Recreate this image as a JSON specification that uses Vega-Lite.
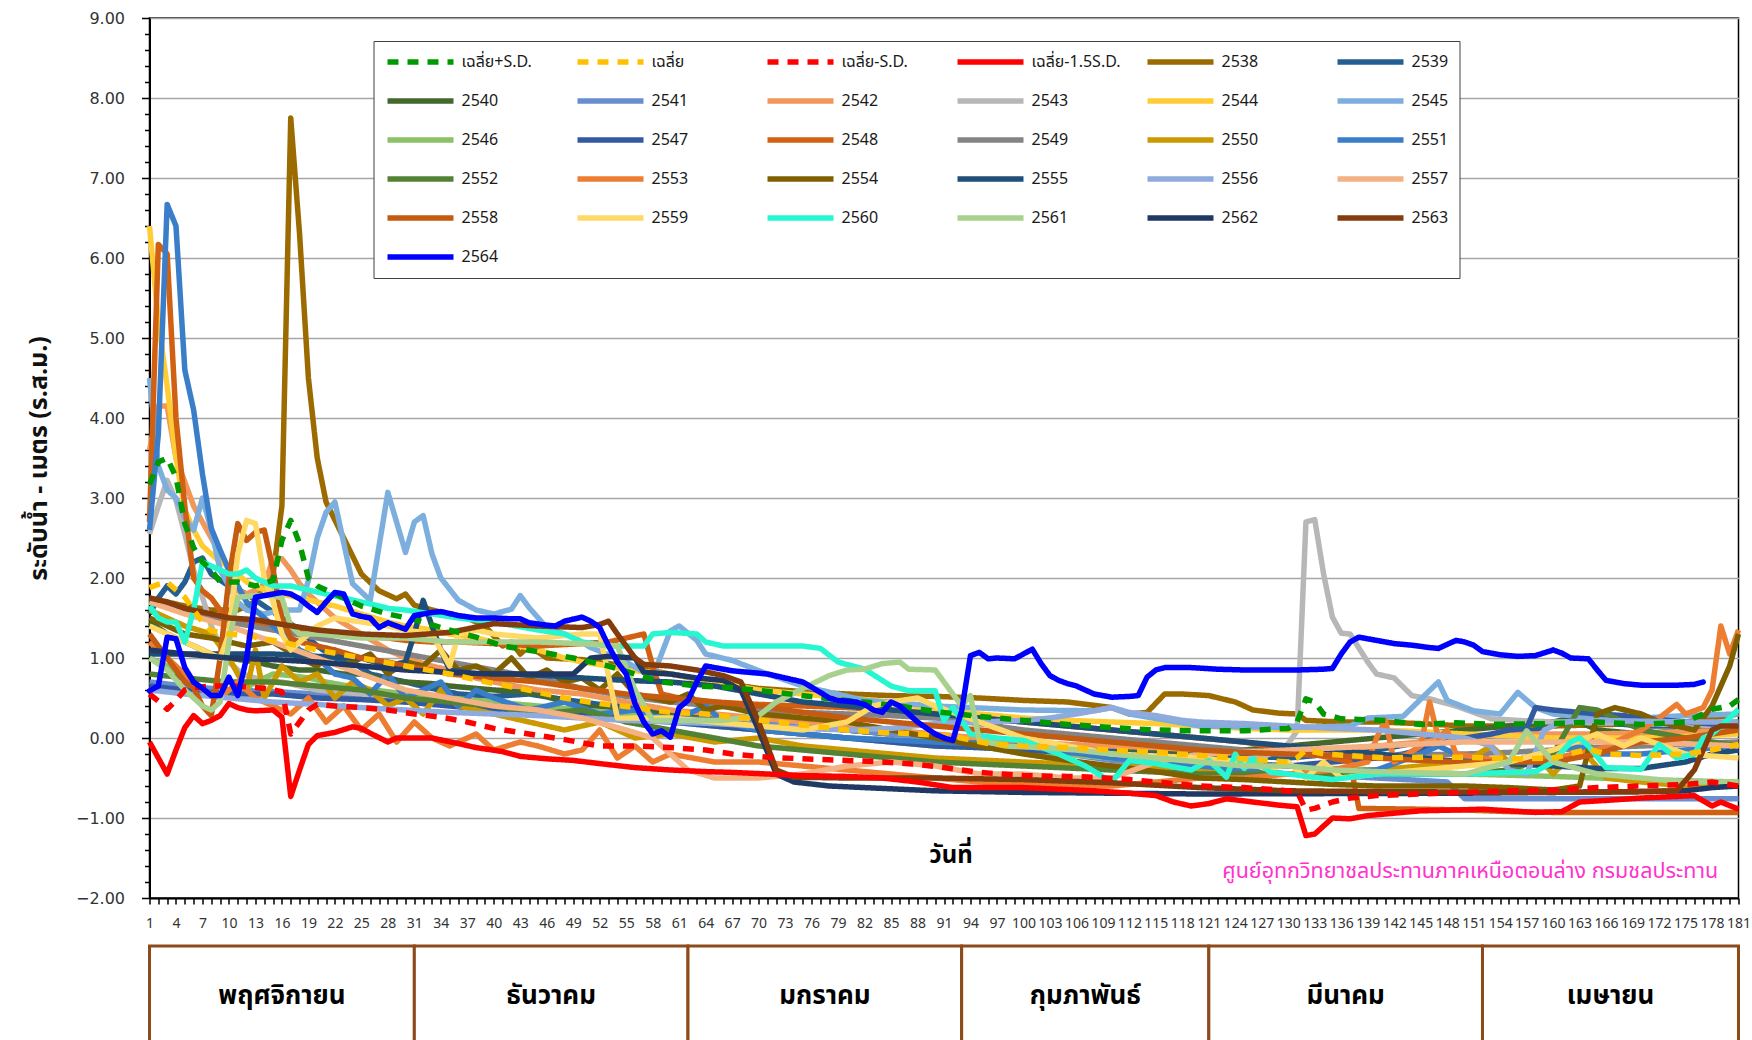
{
"$schema": "https://vega.github.io/schema/vega-lite/v6.json",
"background": "white",
"padding": {"left": 25.5, "top": 9, "right": 0, "bottom": 0},
"spacing": 13,
"config": {"view": {"stroke": null}},
"datasets": {
"mo": [
{"m": "พฤศจิกายน", "a": 1, "b": 31},
{"m": "ธันวาคม", "a": 31, "b": 62},
{"m": "มกราคม", "a": 62, "b": 93},
{"m": "กุมภาพันธ์", "a": 93, "b": 121},
{"m": "มีนาคม", "a": 121, "b": 152},
{"m": "เมษายน", "a": 152, "b": 181}
],
"w": [
{"s":"2538","d":1,"v":1.75},{"s":"2538","d":3,"v":1.7},{"s":"2538","d":5,"v":1.65},{"s":"2538","d":8,"v":1.6},{"s":"2538","d":11,"v":1.6},{"s":"2538","d":13,"v":1.7},{"s":"2538","d":14,"v":1.95},{"s":"2538","d":15,"v":2.05},{"s":"2538","d":16,"v":2.9},{"s":"2538","d":17,"v":7.75},{"s":"2538","d":18,"v":6.3},{"s":"2538","d":19,"v":4.5},{"s":"2538","d":20,"v":3.5},{"s":"2538","d":21,"v":2.95},{"s":"2538","d":23,"v":2.5},{"s":"2538","d":25,"v":2.05},{"s":"2538","d":27,"v":1.84},{"s":"2538","d":29,"v":1.74},{"s":"2538","d":30,"v":1.8},{"s":"2538","d":31,"v":1.66},{"s":"2538","d":33,"v":1.6},{"s":"2538","d":35,"v":1.55},{"s":"2538","d":37,"v":1.5},{"s":"2538","d":39,"v":1.4},{"s":"2538","d":41,"v":1.15},{"s":"2538","d":42,"v":1.2},{"s":"2538","d":43,"v":1.05},{"s":"2538","d":44,"v":1.15},{"s":"2538","d":46,"v":1.0},{"s":"2538","d":50,"v":0.98},{"s":"2538","d":55,"v":0.9},{"s":"2538","d":60,"v":0.8},{"s":"2538","d":65,"v":0.7},{"s":"2538","d":70,"v":0.62},{"s":"2538","d":75,"v":0.58},{"s":"2538","d":80,"v":0.55},{"s":"2538","d":85,"v":0.53},{"s":"2538","d":90,"v":0.52},{"s":"2538","d":95,"v":0.5},{"s":"2538","d":100,"v":0.47},{"s":"2538","d":105,"v":0.45},{"s":"2538","d":110,"v":0.38},{"s":"2538","d":112,"v":0.3},{"s":"2538","d":114,"v":0.32},{"s":"2538","d":116,"v":0.55},{"s":"2538","d":118,"v":0.55},{"s":"2538","d":121,"v":0.53},{"s":"2538","d":124,"v":0.45},{"s":"2538","d":126,"v":0.35},{"s":"2538","d":129,"v":0.31},{"s":"2538","d":131,"v":0.3},{"s":"2538","d":132,"v":0.22},{"s":"2538","d":136,"v":0.2},{"s":"2538","d":140,"v":0.2},{"s":"2538","d":145,"v":0.18},{"s":"2538","d":150,"v":0.15},{"s":"2538","d":160,"v":0.15},{"s":"2538","d":170,"v":0.18},{"s":"2538","d":175,"v":0.2},{"s":"2538","d":181,"v":0.3},
{"s":"2539","d":1,"v":1.55},{"s":"2539","d":2,"v":1.75},{"s":"2539","d":3,"v":1.9},{"s":"2539","d":4,"v":1.8},{"s":"2539","d":5,"v":1.95},{"s":"2539","d":6,"v":2.2},{"s":"2539","d":7,"v":2.25},{"s":"2539","d":8,"v":2.05},{"s":"2539","d":10,"v":1.9},{"s":"2539","d":12,"v":1.8},{"s":"2539","d":14,"v":1.65},{"s":"2539","d":16,"v":1.5},{"s":"2539","d":18,"v":1.35},{"s":"2539","d":20,"v":1.15},{"s":"2539","d":22,"v":1.0},{"s":"2539","d":24,"v":0.95},{"s":"2539","d":26,"v":0.8},{"s":"2539","d":28,"v":0.75},{"s":"2539","d":30,"v":0.7},{"s":"2539","d":33,"v":0.62},{"s":"2539","d":36,"v":0.55},{"s":"2539","d":40,"v":0.52},{"s":"2539","d":44,"v":0.55},{"s":"2539","d":48,"v":0.48},{"s":"2539","d":52,"v":0.42},{"s":"2539","d":56,"v":0.38},{"s":"2539","d":60,"v":0.3},{"s":"2539","d":65,"v":0.25},{"s":"2539","d":70,"v":0.2},{"s":"2539","d":75,"v":0.15},{"s":"2539","d":80,"v":0.1},{"s":"2539","d":85,"v":0.05},{"s":"2539","d":90,"v":0.02},{"s":"2539","d":95,"v":-0.05},{"s":"2539","d":100,"v":-0.1},{"s":"2539","d":110,"v":-0.15},{"s":"2539","d":120,"v":-0.2},{"s":"2539","d":130,"v":-0.25},{"s":"2539","d":135,"v":-0.2},{"s":"2539","d":140,"v":-0.15},{"s":"2539","d":145,"v":-0.05},{"s":"2539","d":148,"v":0.05},{"s":"2539","d":150,"v":0.0},{"s":"2539","d":155,"v":0.05},{"s":"2539","d":158,"v":0.1},{"s":"2539","d":160,"v":0.2},{"s":"2539","d":165,"v":0.2},{"s":"2539","d":170,"v":0.15},{"s":"2539","d":175,"v":0.15},{"s":"2539","d":181,"v":0.2},
{"s":"2540","d":1,"v":1.45},{"s":"2540","d":3,"v":1.3},{"s":"2540","d":5,"v":1.2},{"s":"2540","d":8,"v":1.05},{"s":"2540","d":10,"v":1.0},{"s":"2540","d":13,"v":0.95},{"s":"2540","d":15,"v":0.9},{"s":"2540","d":18,"v":0.85},{"s":"2540","d":20,"v":0.85},{"s":"2540","d":23,"v":0.8},{"s":"2540","d":25,"v":0.8},{"s":"2540","d":28,"v":0.72},{"s":"2540","d":30,"v":0.7},{"s":"2540","d":33,"v":0.68},{"s":"2540","d":35,"v":0.65},{"s":"2540","d":38,"v":0.62},{"s":"2540","d":40,"v":0.6},{"s":"2540","d":43,"v":0.58},{"s":"2540","d":45,"v":0.55},{"s":"2540","d":48,"v":0.45},{"s":"2540","d":50,"v":0.4},{"s":"2540","d":55,"v":0.35},{"s":"2540","d":60,"v":0.3},{"s":"2540","d":65,"v":0.25},{"s":"2540","d":70,"v":0.2},{"s":"2540","d":75,"v":0.15},{"s":"2540","d":80,"v":0.1},{"s":"2540","d":85,"v":0.05},{"s":"2540","d":90,"v":0.0},{"s":"2540","d":95,"v":-0.05},{"s":"2540","d":100,"v":-0.1},{"s":"2540","d":105,"v":-0.15},{"s":"2540","d":110,"v":-0.2},{"s":"2540","d":113,"v":-0.12},{"s":"2540","d":116,"v":-0.15},{"s":"2540","d":120,"v":-0.2},{"s":"2540","d":125,"v":-0.15},{"s":"2540","d":130,"v":-0.1},{"s":"2540","d":135,"v":-0.05},{"s":"2540","d":140,"v":0.0},{"s":"2540","d":145,"v":0.05},{"s":"2540","d":150,"v":0.1},{"s":"2540","d":155,"v":0.15},{"s":"2540","d":160,"v":0.2},{"s":"2540","d":162,"v":0.25},{"s":"2540","d":165,"v":0.1},{"s":"2540","d":170,"v":0.05},{"s":"2540","d":175,"v":0.1},{"s":"2540","d":181,"v":0.1},
{"s":"2541","d":1,"v":0.7},{"s":"2541","d":5,"v":0.65},{"s":"2541","d":10,"v":0.6},{"s":"2541","d":15,"v":0.58},{"s":"2541","d":20,"v":0.55},{"s":"2541","d":25,"v":0.5},{"s":"2541","d":30,"v":0.45},{"s":"2541","d":35,"v":0.42},{"s":"2541","d":40,"v":0.4},{"s":"2541","d":45,"v":0.38},{"s":"2541","d":50,"v":0.35},{"s":"2541","d":55,"v":0.3},{"s":"2541","d":60,"v":0.25},{"s":"2541","d":65,"v":0.22},{"s":"2541","d":70,"v":0.2},{"s":"2541","d":75,"v":0.15},{"s":"2541","d":80,"v":0.1},{"s":"2541","d":85,"v":0.05},{"s":"2541","d":90,"v":0.0},{"s":"2541","d":95,"v":-0.08},{"s":"2541","d":100,"v":-0.15},{"s":"2541","d":105,"v":-0.2},{"s":"2541","d":110,"v":-0.28},{"s":"2541","d":115,"v":-0.35},{"s":"2541","d":120,"v":-0.4},{"s":"2541","d":125,"v":-0.42},{"s":"2541","d":130,"v":-0.45},{"s":"2541","d":135,"v":-0.47},{"s":"2541","d":140,"v":-0.5},{"s":"2541","d":145,"v":-0.53},{"s":"2541","d":148,"v":-0.55},{"s":"2541","d":150,"v":-0.76},{"s":"2541","d":160,"v":-0.76},{"s":"2541","d":170,"v":-0.76},{"s":"2541","d":181,"v":-0.76},
{"s":"2542","d":1,"v":3.6},{"s":"2542","d":2,"v":4.15},{"s":"2542","d":3,"v":4.15},{"s":"2542","d":4,"v":3.5},{"s":"2542","d":5,"v":3.2},{"s":"2542","d":6,"v":2.9},{"s":"2542","d":7,"v":2.7},{"s":"2542","d":8,"v":2.5},{"s":"2542","d":9,"v":2.3},{"s":"2542","d":10,"v":2.1},{"s":"2542","d":11,"v":1.84},{"s":"2542","d":12,"v":1.8},{"s":"2542","d":13,"v":1.85},{"s":"2542","d":14,"v":1.9},{"s":"2542","d":15,"v":2.25},{"s":"2542","d":16,"v":2.24},{"s":"2542","d":17,"v":2.1},{"s":"2542","d":18,"v":1.93},{"s":"2542","d":19,"v":1.8},{"s":"2542","d":20,"v":1.7},{"s":"2542","d":22,"v":1.5},{"s":"2542","d":25,"v":1.3},{"s":"2542","d":28,"v":1.1},{"s":"2542","d":30,"v":1.0},{"s":"2542","d":33,"v":0.9},{"s":"2542","d":35,"v":0.85},{"s":"2542","d":38,"v":0.75},{"s":"2542","d":40,"v":0.7},{"s":"2542","d":45,"v":0.6},{"s":"2542","d":50,"v":0.55},{"s":"2542","d":55,"v":0.45},{"s":"2542","d":60,"v":0.35},{"s":"2542","d":65,"v":0.3},{"s":"2542","d":70,"v":0.25},{"s":"2542","d":75,"v":0.2},{"s":"2542","d":80,"v":0.15},{"s":"2542","d":85,"v":0.1},{"s":"2542","d":90,"v":0.05},{"s":"2542","d":95,"v":0.0},{"s":"2542","d":100,"v":-0.05},{"s":"2542","d":105,"v":-0.08},{"s":"2542","d":110,"v":-0.1},{"s":"2542","d":115,"v":-0.12},{"s":"2542","d":120,"v":-0.15},{"s":"2542","d":125,"v":-0.18},{"s":"2542","d":130,"v":-0.2},{"s":"2542","d":135,"v":-0.15},{"s":"2542","d":140,"v":-0.1},{"s":"2542","d":145,"v":-0.05},{"s":"2542","d":150,"v":0.0},{"s":"2542","d":155,"v":0.05},{"s":"2542","d":165,"v":0.05},{"s":"2542","d":175,"v":0.08},{"s":"2542","d":181,"v":0.1},
{"s":"2543","d":1,"v":2.55},{"s":"2543","d":2,"v":2.9},{"s":"2543","d":3,"v":3.22},{"s":"2543","d":4,"v":2.97},{"s":"2543","d":5,"v":2.55},{"s":"2543","d":6,"v":2.1},{"s":"2543","d":7,"v":1.76},{"s":"2543","d":8,"v":1.4},{"s":"2543","d":9,"v":1.15},{"s":"2543","d":10,"v":0.95},{"s":"2543","d":11,"v":0.85},{"s":"2543","d":12,"v":0.78},{"s":"2543","d":14,"v":0.72},{"s":"2543","d":16,"v":0.7},{"s":"2543","d":18,"v":0.65},{"s":"2543","d":20,"v":0.6},{"s":"2543","d":25,"v":0.55},{"s":"2543","d":30,"v":0.5},{"s":"2543","d":35,"v":0.45},{"s":"2543","d":40,"v":0.4},{"s":"2543","d":45,"v":0.35},{"s":"2543","d":50,"v":0.3},{"s":"2543","d":55,"v":0.25},{"s":"2543","d":60,"v":0.2},{"s":"2543","d":65,"v":0.15},{"s":"2543","d":70,"v":0.1},{"s":"2543","d":75,"v":0.05},{"s":"2543","d":80,"v":0.0},{"s":"2543","d":85,"v":-0.02},{"s":"2543","d":90,"v":-0.05},{"s":"2543","d":95,"v":-0.1},{"s":"2543","d":100,"v":-0.15},{"s":"2543","d":105,"v":-0.2},{"s":"2543","d":110,"v":-0.25},{"s":"2543","d":115,"v":-0.27},{"s":"2543","d":120,"v":-0.3},{"s":"2543","d":124,"v":-0.28},{"s":"2543","d":127,"v":-0.24},{"s":"2543","d":129,"v":-0.15},{"s":"2543","d":130,"v":-0.07},{"s":"2543","d":131,"v":0.09},{"s":"2543","d":132,"v":2.7},{"s":"2543","d":133,"v":2.73},{"s":"2543","d":134,"v":2.05},{"s":"2543","d":135,"v":1.51},{"s":"2543","d":136,"v":1.31},{"s":"2543","d":137,"v":1.3},{"s":"2543","d":139,"v":0.95},{"s":"2543","d":140,"v":0.8},{"s":"2543","d":142,"v":0.75},{"s":"2543","d":144,"v":0.53},{"s":"2543","d":146,"v":0.49},{"s":"2543","d":149,"v":0.4},{"s":"2543","d":153,"v":0.24},{"s":"2543","d":156,"v":0.22},{"s":"2543","d":160,"v":0.2},{"s":"2543","d":170,"v":0.18},{"s":"2543","d":181,"v":0.15},
{"s":"2544","d":1,"v":6.4},{"s":"2544","d":2,"v":5.2},{"s":"2544","d":3,"v":4.4},{"s":"2544","d":4,"v":3.5},{"s":"2544","d":5,"v":2.85},{"s":"2544","d":6,"v":2.6},{"s":"2544","d":7,"v":2.4},{"s":"2544","d":8,"v":2.3},{"s":"2544","d":9,"v":2.2},{"s":"2544","d":10,"v":2.15},{"s":"2544","d":12,"v":1.95},{"s":"2544","d":14,"v":1.85},{"s":"2544","d":16,"v":1.8},{"s":"2544","d":18,"v":1.75},{"s":"2544","d":20,"v":1.7},{"s":"2544","d":22,"v":1.65},{"s":"2544","d":25,"v":1.55},{"s":"2544","d":28,"v":1.45},{"s":"2544","d":30,"v":1.4},{"s":"2544","d":33,"v":1.35},{"s":"2544","d":35,"v":1.3},{"s":"2544","d":38,"v":1.25},{"s":"2544","d":40,"v":1.2},{"s":"2544","d":43,"v":1.15},{"s":"2544","d":45,"v":1.1},{"s":"2544","d":48,"v":1.0},{"s":"2544","d":50,"v":0.95},{"s":"2544","d":53,"v":0.9},{"s":"2544","d":55,"v":0.85},{"s":"2544","d":58,"v":0.82},{"s":"2544","d":60,"v":0.8},{"s":"2544","d":65,"v":0.7},{"s":"2544","d":70,"v":0.6},{"s":"2544","d":75,"v":0.55},{"s":"2544","d":80,"v":0.5},{"s":"2544","d":85,"v":0.45},{"s":"2544","d":90,"v":0.35},{"s":"2544","d":95,"v":0.3},{"s":"2544","d":100,"v":0.25},{"s":"2544","d":105,"v":0.22},{"s":"2544","d":110,"v":0.2},{"s":"2544","d":115,"v":0.18},{"s":"2544","d":120,"v":0.15},{"s":"2544","d":125,"v":0.12},{"s":"2544","d":130,"v":0.1},{"s":"2544","d":140,"v":0.1},{"s":"2544","d":145,"v":0.08},{"s":"2544","d":150,"v":0.05},{"s":"2544","d":155,"v":0.03},{"s":"2544","d":160,"v":0.0},{"s":"2544","d":170,"v":0.0},{"s":"2544","d":175,"v":0.02},{"s":"2544","d":181,"v":0.05},
{"s":"2545","d":1,"v":4.5},{"s":"2545","d":2,"v":3.4},{"s":"2545","d":3,"v":3.1},{"s":"2545","d":4,"v":3.0},{"s":"2545","d":5,"v":2.75},{"s":"2545","d":6,"v":2.6},{"s":"2545","d":7,"v":3.0},{"s":"2545","d":8,"v":2.6},{"s":"2545","d":9,"v":2.1},{"s":"2545","d":10,"v":1.9},{"s":"2545","d":11,"v":1.7},{"s":"2545","d":12,"v":1.6},{"s":"2545","d":14,"v":1.55},{"s":"2545","d":16,"v":1.6},{"s":"2545","d":18,"v":1.6},{"s":"2545","d":19,"v":1.97},{"s":"2545","d":20,"v":2.5},{"s":"2545","d":21,"v":2.82},{"s":"2545","d":22,"v":2.95},{"s":"2545","d":24,"v":1.93},{"s":"2545","d":26,"v":1.72},{"s":"2545","d":28,"v":3.07},{"s":"2545","d":30,"v":2.32},{"s":"2545","d":31,"v":2.7},{"s":"2545","d":32,"v":2.78},{"s":"2545","d":33,"v":2.3},{"s":"2545","d":34,"v":2.0},{"s":"2545","d":36,"v":1.72},{"s":"2545","d":38,"v":1.6},{"s":"2545","d":40,"v":1.55},{"s":"2545","d":42,"v":1.61},{"s":"2545","d":43,"v":1.78},{"s":"2545","d":44,"v":1.63},{"s":"2545","d":46,"v":1.38},{"s":"2545","d":49,"v":1.26},{"s":"2545","d":51,"v":1.13},{"s":"2545","d":55,"v":0.95},{"s":"2545","d":58,"v":0.76},{"s":"2545","d":60,"v":1.34},{"s":"2545","d":61,"v":1.4},{"s":"2545","d":63,"v":1.22},{"s":"2545","d":64,"v":1.05},{"s":"2545","d":67,"v":0.97},{"s":"2545","d":71,"v":0.8},{"s":"2545","d":75,"v":0.65},{"s":"2545","d":82,"v":0.47},{"s":"2545","d":90,"v":0.4},{"s":"2545","d":100,"v":0.35},{"s":"2545","d":108,"v":0.34},{"s":"2545","d":110,"v":0.38},{"s":"2545","d":112,"v":0.3},{"s":"2545","d":120,"v":0.15},{"s":"2545","d":130,"v":0.13},{"s":"2545","d":137,"v":0.15},{"s":"2545","d":139,"v":0.25},{"s":"2545","d":143,"v":0.27},{"s":"2545","d":147,"v":0.7},{"s":"2545","d":148,"v":0.47},{"s":"2545","d":151,"v":0.34},{"s":"2545","d":154,"v":0.3},{"s":"2545","d":156,"v":0.57},{"s":"2545","d":158,"v":0.38},{"s":"2545","d":160,"v":0.3},{"s":"2545","d":165,"v":0.25},{"s":"2545","d":170,"v":0.25},{"s":"2545","d":175,"v":0.28},{"s":"2545","d":181,"v":0.3},
{"s":"2546","d":1,"v":1.0},{"s":"2546","d":3,"v":0.9},{"s":"2546","d":5,"v":0.75},{"s":"2546","d":7,"v":0.6},{"s":"2546","d":9,"v":0.5},{"s":"2546","d":11,"v":0.55},{"s":"2546","d":13,"v":0.7},{"s":"2546","d":15,"v":0.8},{"s":"2546","d":17,"v":0.78},{"s":"2546","d":19,"v":0.75},{"s":"2546","d":21,"v":0.7},{"s":"2546","d":25,"v":0.62},{"s":"2546","d":30,"v":0.55},{"s":"2546","d":35,"v":0.5},{"s":"2546","d":40,"v":0.45},{"s":"2546","d":45,"v":0.4},{"s":"2546","d":50,"v":0.35},{"s":"2546","d":55,"v":0.3},{"s":"2546","d":60,"v":0.22},{"s":"2546","d":65,"v":0.15},{"s":"2546","d":70,"v":0.1},{"s":"2546","d":75,"v":0.05},{"s":"2546","d":80,"v":0.0},{"s":"2546","d":85,"v":-0.05},{"s":"2546","d":90,"v":-0.1},{"s":"2546","d":95,"v":-0.12},{"s":"2546","d":100,"v":-0.15},{"s":"2546","d":105,"v":-0.2},{"s":"2546","d":110,"v":-0.25},{"s":"2546","d":115,"v":-0.28},{"s":"2546","d":120,"v":-0.3},{"s":"2546","d":125,"v":-0.32},{"s":"2546","d":130,"v":-0.35},{"s":"2546","d":135,"v":-0.38},{"s":"2546","d":140,"v":-0.4},{"s":"2546","d":145,"v":-0.42},{"s":"2546","d":150,"v":-0.45},{"s":"2546","d":160,"v":-0.48},{"s":"2546","d":165,"v":-0.5},{"s":"2546","d":170,"v":-0.52},{"s":"2546","d":181,"v":-0.55},
{"s":"2547","d":1,"v":0.65},{"s":"2547","d":5,"v":0.6},{"s":"2547","d":10,"v":0.55},{"s":"2547","d":15,"v":0.55},{"s":"2547","d":20,"v":0.5},{"s":"2547","d":25,"v":0.48},{"s":"2547","d":30,"v":0.45},{"s":"2547","d":35,"v":0.4},{"s":"2547","d":40,"v":0.35},{"s":"2547","d":45,"v":0.32},{"s":"2547","d":50,"v":0.3},{"s":"2547","d":55,"v":0.25},{"s":"2547","d":60,"v":0.2},{"s":"2547","d":65,"v":0.15},{"s":"2547","d":70,"v":0.1},{"s":"2547","d":75,"v":0.05},{"s":"2547","d":80,"v":0.0},{"s":"2547","d":85,"v":-0.05},{"s":"2547","d":90,"v":-0.1},{"s":"2547","d":95,"v":-0.12},{"s":"2547","d":100,"v":-0.15},{"s":"2547","d":105,"v":-0.18},{"s":"2547","d":110,"v":-0.2},{"s":"2547","d":115,"v":-0.25},{"s":"2547","d":120,"v":-0.3},{"s":"2547","d":125,"v":-0.32},{"s":"2547","d":130,"v":-0.35},{"s":"2547","d":135,"v":-0.3},{"s":"2547","d":140,"v":-0.25},{"s":"2547","d":143,"v":-0.2},{"s":"2547","d":145,"v":-0.15},{"s":"2547","d":148,"v":-0.05},{"s":"2547","d":150,"v":0.0},{"s":"2547","d":153,"v":0.05},{"s":"2547","d":155,"v":0.1},{"s":"2547","d":157,"v":0.12},{"s":"2547","d":158,"v":0.38},{"s":"2547","d":160,"v":0.35},{"s":"2547","d":163,"v":0.32},{"s":"2547","d":165,"v":0.3},{"s":"2547","d":168,"v":0.28},{"s":"2547","d":170,"v":0.25},{"s":"2547","d":175,"v":0.2},{"s":"2547","d":181,"v":0.15},
{"s":"2548","d":1,"v":2.7},{"s":"2548","d":2,"v":6.17},{"s":"2548","d":3,"v":6.05},{"s":"2548","d":4,"v":4.0},{"s":"2548","d":5,"v":2.9},{"s":"2548","d":6,"v":2.0},{"s":"2548","d":7,"v":1.84},{"s":"2548","d":8,"v":1.75},{"s":"2548","d":9,"v":1.6},{"s":"2548","d":10,"v":1.5},{"s":"2548","d":12,"v":1.45},{"s":"2548","d":14,"v":1.4},{"s":"2548","d":16,"v":1.38},{"s":"2548","d":18,"v":1.35},{"s":"2548","d":20,"v":1.32},{"s":"2548","d":22,"v":1.3},{"s":"2548","d":25,"v":1.28},{"s":"2548","d":28,"v":1.25},{"s":"2548","d":30,"v":1.22},{"s":"2548","d":33,"v":1.2},{"s":"2548","d":36,"v":1.2},{"s":"2548","d":40,"v":1.18},{"s":"2548","d":45,"v":1.15},{"s":"2548","d":50,"v":1.18},{"s":"2548","d":53,"v":1.2},{"s":"2548","d":55,"v":1.25},{"s":"2548","d":57,"v":1.3},{"s":"2548","d":58,"v":0.9},{"s":"2548","d":59,"v":0.55},{"s":"2548","d":61,"v":0.5},{"s":"2548","d":65,"v":0.45},{"s":"2548","d":70,"v":0.42},{"s":"2548","d":75,"v":0.4},{"s":"2548","d":80,"v":0.38},{"s":"2548","d":85,"v":0.35},{"s":"2548","d":90,"v":0.3},{"s":"2548","d":95,"v":0.25},{"s":"2548","d":100,"v":0.2},{"s":"2548","d":105,"v":0.15},{"s":"2548","d":110,"v":0.1},{"s":"2548","d":115,"v":0.05},{"s":"2548","d":120,"v":0.0},{"s":"2548","d":125,"v":-0.05},{"s":"2548","d":130,"v":-0.15},{"s":"2548","d":135,"v":-0.25},{"s":"2548","d":137,"v":-0.3},{"s":"2548","d":138,"v":-0.88},{"s":"2548","d":145,"v":-0.89},{"s":"2548","d":150,"v":-0.9},{"s":"2548","d":155,"v":-0.92},{"s":"2548","d":160,"v":-0.93},{"s":"2548","d":181,"v":-0.93},
{"s":"2549","d":1,"v":1.7},{"s":"2549","d":5,"v":1.6},{"s":"2549","d":10,"v":1.45},{"s":"2549","d":15,"v":1.35},{"s":"2549","d":20,"v":1.25},{"s":"2549","d":25,"v":1.15},{"s":"2549","d":30,"v":1.05},{"s":"2549","d":35,"v":0.95},{"s":"2549","d":40,"v":0.85},{"s":"2549","d":45,"v":0.75},{"s":"2549","d":50,"v":0.62},{"s":"2549","d":55,"v":0.52},{"s":"2549","d":60,"v":0.45},{"s":"2549","d":65,"v":0.4},{"s":"2549","d":70,"v":0.35},{"s":"2549","d":75,"v":0.32},{"s":"2549","d":80,"v":0.3},{"s":"2549","d":85,"v":0.28},{"s":"2549","d":90,"v":0.25},{"s":"2549","d":95,"v":0.18},{"s":"2549","d":100,"v":0.1},{"s":"2549","d":105,"v":0.05},{"s":"2549","d":110,"v":0.0},{"s":"2549","d":115,"v":-0.05},{"s":"2549","d":120,"v":-0.1},{"s":"2549","d":125,"v":-0.15},{"s":"2549","d":130,"v":-0.2},{"s":"2549","d":135,"v":-0.22},{"s":"2549","d":140,"v":-0.22},{"s":"2549","d":150,"v":-0.2},{"s":"2549","d":155,"v":-0.18},{"s":"2549","d":160,"v":-0.15},{"s":"2549","d":165,"v":-0.12},{"s":"2549","d":170,"v":-0.1},{"s":"2549","d":175,"v":-0.08},{"s":"2549","d":181,"v":-0.05},
{"s":"2550","d":1,"v":1.6},{"s":"2550","d":3,"v":1.5},{"s":"2550","d":5,"v":1.4},{"s":"2550","d":8,"v":1.3},{"s":"2550","d":10,"v":1.0},{"s":"2550","d":12,"v":0.6},{"s":"2550","d":13,"v":1.1},{"s":"2550","d":14,"v":0.5},{"s":"2550","d":16,"v":0.9},{"s":"2550","d":18,"v":0.7},{"s":"2550","d":20,"v":0.8},{"s":"2550","d":22,"v":0.5},{"s":"2550","d":24,"v":0.7},{"s":"2550","d":26,"v":0.6},{"s":"2550","d":28,"v":0.4},{"s":"2550","d":30,"v":0.5},{"s":"2550","d":32,"v":0.3},{"s":"2550","d":34,"v":0.6},{"s":"2550","d":36,"v":0.4},{"s":"2550","d":40,"v":0.3},{"s":"2550","d":44,"v":0.2},{"s":"2550","d":48,"v":0.1},{"s":"2550","d":52,"v":0.2},{"s":"2550","d":56,"v":0.0},{"s":"2550","d":60,"v":0.05},{"s":"2550","d":65,"v":-0.05},{"s":"2550","d":70,"v":0.0},{"s":"2550","d":75,"v":-0.1},{"s":"2550","d":80,"v":-0.15},{"s":"2550","d":90,"v":-0.25},{"s":"2550","d":100,"v":-0.3},{"s":"2550","d":110,"v":-0.35},{"s":"2550","d":120,"v":-0.4},{"s":"2550","d":130,"v":-0.45},{"s":"2550","d":140,"v":-0.4},{"s":"2550","d":150,"v":-0.3},{"s":"2550","d":153,"v":-0.1},{"s":"2550","d":156,"v":-0.4},{"s":"2550","d":158,"v":-0.2},{"s":"2550","d":160,"v":-0.45},{"s":"2550","d":163,"v":-0.1},{"s":"2550","d":166,"v":-0.5},{"s":"2550","d":170,"v":-0.55},{"s":"2550","d":175,"v":-0.6},{"s":"2550","d":181,"v":-0.55},
{"s":"2551","d":1,"v":2.6},{"s":"2551","d":2,"v":3.8},{"s":"2551","d":3,"v":6.67},{"s":"2551","d":4,"v":6.4},{"s":"2551","d":5,"v":4.6},{"s":"2551","d":6,"v":4.1},{"s":"2551","d":7,"v":3.3},{"s":"2551","d":8,"v":2.62},{"s":"2551","d":9,"v":2.35},{"s":"2551","d":10,"v":2.1},{"s":"2551","d":11,"v":1.9},{"s":"2551","d":12,"v":1.7},{"s":"2551","d":14,"v":1.5},{"s":"2551","d":16,"v":1.3},{"s":"2551","d":18,"v":1.1},{"s":"2551","d":20,"v":1.0},{"s":"2551","d":22,"v":0.8},{"s":"2551","d":24,"v":0.75},{"s":"2551","d":26,"v":0.55},{"s":"2551","d":28,"v":0.8},{"s":"2551","d":30,"v":0.5},{"s":"2551","d":32,"v":0.6},{"s":"2551","d":34,"v":0.7},{"s":"2551","d":36,"v":0.4},{"s":"2551","d":38,"v":0.6},{"s":"2551","d":40,"v":0.5},{"s":"2551","d":44,"v":0.35},{"s":"2551","d":48,"v":0.45},{"s":"2551","d":52,"v":0.3},{"s":"2551","d":56,"v":0.35},{"s":"2551","d":60,"v":0.2},{"s":"2551","d":64,"v":0.4},{"s":"2551","d":66,"v":0.2},{"s":"2551","d":70,"v":0.1},{"s":"2551","d":75,"v":0.05},{"s":"2551","d":80,"v":0.0},{"s":"2551","d":90,"v":-0.05},{"s":"2551","d":100,"v":-0.1},{"s":"2551","d":110,"v":-0.25},{"s":"2551","d":120,"v":-0.35},{"s":"2551","d":130,"v":-0.45},{"s":"2551","d":140,"v":-0.4},{"s":"2551","d":145,"v":-0.2},{"s":"2551","d":147,"v":-0.1},{"s":"2551","d":150,"v":-0.25},{"s":"2551","d":155,"v":-0.3},{"s":"2551","d":160,"v":-0.15},{"s":"2551","d":163,"v":-0.1},{"s":"2551","d":165,"v":-0.2},{"s":"2551","d":170,"v":-0.2},{"s":"2551","d":175,"v":-0.15},{"s":"2551","d":181,"v":-0.1},
{"s":"2552","d":1,"v":0.8},{"s":"2552","d":5,"v":0.75},{"s":"2552","d":10,"v":0.7},{"s":"2552","d":15,"v":0.7},{"s":"2552","d":20,"v":0.65},{"s":"2552","d":25,"v":0.6},{"s":"2552","d":30,"v":0.5},{"s":"2552","d":35,"v":0.45},{"s":"2552","d":40,"v":0.4},{"s":"2552","d":45,"v":0.3},{"s":"2552","d":50,"v":0.35},{"s":"2552","d":55,"v":0.2},{"s":"2552","d":60,"v":0.1},{"s":"2552","d":65,"v":0.0},{"s":"2552","d":70,"v":-0.1},{"s":"2552","d":75,"v":-0.15},{"s":"2552","d":80,"v":-0.2},{"s":"2552","d":90,"v":-0.3},{"s":"2552","d":100,"v":-0.35},{"s":"2552","d":110,"v":-0.4},{"s":"2552","d":120,"v":-0.45},{"s":"2552","d":150,"v":-0.45},{"s":"2552","d":155,"v":-0.4},{"s":"2552","d":160,"v":-0.2},{"s":"2552","d":163,"v":0.38},{"s":"2552","d":165,"v":0.35},{"s":"2552","d":170,"v":0.1},{"s":"2552","d":175,"v":0.0},{"s":"2552","d":181,"v":-0.1},
{"s":"2553","d":1,"v":1.2},{"s":"2553","d":3,"v":1.0},{"s":"2553","d":5,"v":0.8},{"s":"2553","d":7,"v":0.6},{"s":"2553","d":9,"v":0.5},{"s":"2553","d":11,"v":0.7},{"s":"2553","d":13,"v":0.5},{"s":"2553","d":15,"v":0.4},{"s":"2553","d":17,"v":0.3},{"s":"2553","d":19,"v":0.5},{"s":"2553","d":21,"v":0.2},{"s":"2553","d":23,"v":0.4},{"s":"2553","d":25,"v":0.1},{"s":"2553","d":27,"v":0.3},{"s":"2553","d":29,"v":-0.05},{"s":"2553","d":31,"v":0.2},{"s":"2553","d":33,"v":0.0},{"s":"2553","d":35,"v":-0.1},{"s":"2553","d":38,"v":0.05},{"s":"2553","d":40,"v":-0.15},{"s":"2553","d":43,"v":-0.05},{"s":"2553","d":45,"v":-0.1},{"s":"2553","d":48,"v":-0.2},{"s":"2553","d":50,"v":-0.15},{"s":"2553","d":52,"v":0.1},{"s":"2553","d":54,"v":-0.25},{"s":"2553","d":56,"v":-0.1},{"s":"2553","d":58,"v":-0.3},{"s":"2553","d":60,"v":-0.2},{"s":"2553","d":65,"v":-0.3},{"s":"2553","d":70,"v":-0.3},{"s":"2553","d":75,"v":-0.35},{"s":"2553","d":80,"v":-0.4},{"s":"2553","d":85,"v":-0.45},{"s":"2553","d":90,"v":-0.5},{"s":"2553","d":95,"v":-0.55},{"s":"2553","d":105,"v":-0.6},{"s":"2553","d":110,"v":-0.6},{"s":"2553","d":115,"v":-0.55},{"s":"2553","d":120,"v":-0.5},{"s":"2553","d":125,"v":-0.5},{"s":"2553","d":130,"v":-0.45},{"s":"2553","d":135,"v":-0.4},{"s":"2553","d":139,"v":-0.3},{"s":"2553","d":140,"v":0.0},{"s":"2553","d":141,"v":0.22},{"s":"2553","d":142,"v":-0.3},{"s":"2553","d":145,"v":-0.1},{"s":"2553","d":146,"v":0.45},{"s":"2553","d":147,"v":0.0},{"s":"2553","d":148,"v":0.1},{"s":"2553","d":149,"v":-0.2},{"s":"2553","d":152,"v":-0.25},{"s":"2553","d":155,"v":-0.3},{"s":"2553","d":160,"v":-0.25},{"s":"2553","d":165,"v":-0.15},{"s":"2553","d":168,"v":0.0},{"s":"2553","d":170,"v":0.1},{"s":"2553","d":172,"v":0.25},{"s":"2553","d":174,"v":0.42},{"s":"2553","d":175,"v":0.3},{"s":"2553","d":177,"v":0.38},{"s":"2553","d":178,"v":0.6},{"s":"2553","d":179,"v":1.4},{"s":"2553","d":180,"v":1.05},{"s":"2553","d":181,"v":1.35},
{"s":"2554","d":1,"v":1.5},{"s":"2554","d":3,"v":1.4},{"s":"2554","d":5,"v":1.3},{"s":"2554","d":8,"v":1.25},{"s":"2554","d":10,"v":1.2},{"s":"2554","d":12,"v":1.15},{"s":"2554","d":15,"v":1.2},{"s":"2554","d":18,"v":1.0},{"s":"2554","d":20,"v":0.9},{"s":"2554","d":22,"v":1.1},{"s":"2554","d":24,"v":0.95},{"s":"2554","d":26,"v":1.05},{"s":"2554","d":28,"v":0.8},{"s":"2554","d":30,"v":0.95},{"s":"2554","d":32,"v":0.9},{"s":"2554","d":34,"v":1.1},{"s":"2554","d":36,"v":0.85},{"s":"2554","d":38,"v":0.9},{"s":"2554","d":40,"v":0.8},{"s":"2554","d":42,"v":1.0},{"s":"2554","d":44,"v":0.75},{"s":"2554","d":46,"v":0.85},{"s":"2554","d":48,"v":0.7},{"s":"2554","d":50,"v":0.75},{"s":"2554","d":52,"v":0.6},{"s":"2554","d":54,"v":0.8},{"s":"2554","d":56,"v":0.55},{"s":"2554","d":58,"v":0.5},{"s":"2554","d":60,"v":0.45},{"s":"2554","d":62,"v":0.55},{"s":"2554","d":64,"v":0.35},{"s":"2554","d":66,"v":0.4},{"s":"2554","d":70,"v":0.3},{"s":"2554","d":75,"v":0.25},{"s":"2554","d":80,"v":0.2},{"s":"2554","d":85,"v":0.1},{"s":"2554","d":90,"v":0.0},{"s":"2554","d":95,"v":-0.1},{"s":"2554","d":100,"v":-0.2},{"s":"2554","d":105,"v":-0.28},{"s":"2554","d":110,"v":-0.35},{"s":"2554","d":115,"v":-0.42},{"s":"2554","d":120,"v":-0.5},{"s":"2554","d":125,"v":-0.52},{"s":"2554","d":130,"v":-0.55},{"s":"2554","d":135,"v":-0.58},{"s":"2554","d":140,"v":-0.6},{"s":"2554","d":150,"v":-0.6},{"s":"2554","d":155,"v":-0.62},{"s":"2554","d":160,"v":-0.65},{"s":"2554","d":163,"v":-0.6},{"s":"2554","d":165,"v":0.3},{"s":"2554","d":167,"v":0.38},{"s":"2554","d":170,"v":0.3},{"s":"2554","d":172,"v":0.2},{"s":"2554","d":174,"v":0.15},{"s":"2554","d":176,"v":0.1},{"s":"2554","d":178,"v":0.4},{"s":"2554","d":180,"v":0.9},{"s":"2554","d":181,"v":1.3},
{"s":"2555","d":1,"v":1.05},{"s":"2555","d":10,"v":1.05},{"s":"2555","d":15,"v":1.05},{"s":"2555","d":20,"v":1.02},{"s":"2555","d":25,"v":1.0},{"s":"2555","d":28,"v":0.9},{"s":"2555","d":30,"v":0.95},{"s":"2555","d":31,"v":1.3},{"s":"2555","d":32,"v":1.72},{"s":"2555","d":33,"v":1.4},{"s":"2555","d":34,"v":1.1},{"s":"2555","d":35,"v":0.85},{"s":"2555","d":38,"v":0.8},{"s":"2555","d":42,"v":0.8},{"s":"2555","d":46,"v":0.78},{"s":"2555","d":50,"v":0.75},{"s":"2555","d":55,"v":0.72},{"s":"2555","d":60,"v":0.7},{"s":"2555","d":65,"v":0.65},{"s":"2555","d":70,"v":0.55},{"s":"2555","d":75,"v":0.45},{"s":"2555","d":80,"v":0.4},{"s":"2555","d":85,"v":0.35},{"s":"2555","d":90,"v":0.3},{"s":"2555","d":95,"v":0.25},{"s":"2555","d":100,"v":0.2},{"s":"2555","d":105,"v":0.15},{"s":"2555","d":110,"v":0.1},{"s":"2555","d":115,"v":0.05},{"s":"2555","d":120,"v":0.0},{"s":"2555","d":125,"v":-0.05},{"s":"2555","d":130,"v":-0.1},{"s":"2555","d":135,"v":-0.15},{"s":"2555","d":140,"v":-0.2},{"s":"2555","d":145,"v":-0.25},{"s":"2555","d":150,"v":-0.3},{"s":"2555","d":155,"v":-0.32},{"s":"2555","d":160,"v":-0.35},{"s":"2555","d":165,"v":-0.38},{"s":"2555","d":170,"v":-0.38},{"s":"2555","d":175,"v":-0.3},{"s":"2555","d":178,"v":-0.2},{"s":"2555","d":181,"v":-0.15},
{"s":"2556","d":1,"v":0.6},{"s":"2556","d":5,"v":0.55},{"s":"2556","d":10,"v":0.5},{"s":"2556","d":15,"v":0.45},{"s":"2556","d":20,"v":0.42},{"s":"2556","d":25,"v":0.38},{"s":"2556","d":30,"v":0.35},{"s":"2556","d":35,"v":0.32},{"s":"2556","d":40,"v":0.3},{"s":"2556","d":45,"v":0.28},{"s":"2556","d":50,"v":0.25},{"s":"2556","d":55,"v":0.22},{"s":"2556","d":60,"v":0.2},{"s":"2556","d":65,"v":0.18},{"s":"2556","d":70,"v":0.15},{"s":"2556","d":75,"v":0.12},{"s":"2556","d":80,"v":0.1},{"s":"2556","d":85,"v":0.12},{"s":"2556","d":90,"v":0.18},{"s":"2556","d":95,"v":0.2},{"s":"2556","d":100,"v":0.22},{"s":"2556","d":103,"v":0.25},{"s":"2556","d":106,"v":0.3},{"s":"2556","d":108,"v":0.34},{"s":"2556","d":110,"v":0.38},{"s":"2556","d":112,"v":0.32},{"s":"2556","d":115,"v":0.28},{"s":"2556","d":118,"v":0.22},{"s":"2556","d":120,"v":0.2},{"s":"2556","d":125,"v":0.18},{"s":"2556","d":130,"v":0.15},{"s":"2556","d":135,"v":0.12},{"s":"2556","d":140,"v":0.1},{"s":"2556","d":145,"v":0.05},{"s":"2556","d":150,"v":0.0},{"s":"2556","d":153,"v":-0.1},{"s":"2556","d":155,"v":-0.4},{"s":"2556","d":157,"v":-0.45},{"s":"2556","d":159,"v":0.1},{"s":"2556","d":161,"v":0.2},{"s":"2556","d":165,"v":0.22},{"s":"2556","d":175,"v":0.2},{"s":"2556","d":181,"v":0.2},
{"s":"2557","d":1,"v":1.7},{"s":"2557","d":5,"v":1.55},{"s":"2557","d":10,"v":1.4},{"s":"2557","d":15,"v":1.2},{"s":"2557","d":20,"v":1.0},{"s":"2557","d":25,"v":0.8},{"s":"2557","d":30,"v":0.6},{"s":"2557","d":35,"v":0.5},{"s":"2557","d":40,"v":0.4},{"s":"2557","d":45,"v":0.35},{"s":"2557","d":50,"v":0.25},{"s":"2557","d":55,"v":0.1},{"s":"2557","d":58,"v":0.0},{"s":"2557","d":60,"v":-0.2},{"s":"2557","d":62,"v":-0.4},{"s":"2557","d":65,"v":-0.5},{"s":"2557","d":70,"v":-0.5},{"s":"2557","d":75,"v":-0.45},{"s":"2557","d":80,"v":-0.35},{"s":"2557","d":85,"v":-0.3},{"s":"2557","d":90,"v":-0.35},{"s":"2557","d":95,"v":-0.45},{"s":"2557","d":100,"v":-0.45},{"s":"2557","d":105,"v":-0.5},{"s":"2557","d":110,"v":-0.5},{"s":"2557","d":115,"v":-0.3},{"s":"2557","d":120,"v":-0.2},{"s":"2557","d":130,"v":-0.15},{"s":"2557","d":140,"v":-0.1},{"s":"2557","d":150,"v":-0.05},{"s":"2557","d":170,"v":-0.05},{"s":"2557","d":181,"v":-0.1},
{"s":"2558","d":1,"v":1.3},{"s":"2558","d":3,"v":1.0},{"s":"2558","d":5,"v":0.7},{"s":"2558","d":6,"v":0.63},{"s":"2558","d":7,"v":0.4},{"s":"2558","d":8,"v":0.28},{"s":"2558","d":9,"v":1.0},{"s":"2558","d":10,"v":2.0},{"s":"2558","d":11,"v":2.68},{"s":"2558","d":12,"v":2.47},{"s":"2558","d":13,"v":2.57},{"s":"2558","d":14,"v":2.6},{"s":"2558","d":15,"v":2.1},{"s":"2558","d":16,"v":1.5},{"s":"2558","d":17,"v":1.25},{"s":"2558","d":18,"v":1.2},{"s":"2558","d":20,"v":1.15},{"s":"2558","d":22,"v":1.1},{"s":"2558","d":25,"v":1.0},{"s":"2558","d":28,"v":0.95},{"s":"2558","d":30,"v":0.9},{"s":"2558","d":33,"v":0.85},{"s":"2558","d":35,"v":0.8},{"s":"2558","d":40,"v":0.75},{"s":"2558","d":45,"v":0.7},{"s":"2558","d":50,"v":0.62},{"s":"2558","d":55,"v":0.55},{"s":"2558","d":60,"v":0.5},{"s":"2558","d":65,"v":0.45},{"s":"2558","d":70,"v":0.4},{"s":"2558","d":75,"v":0.32},{"s":"2558","d":80,"v":0.25},{"s":"2558","d":85,"v":0.2},{"s":"2558","d":90,"v":0.15},{"s":"2558","d":95,"v":0.1},{"s":"2558","d":100,"v":0.05},{"s":"2558","d":105,"v":0.0},{"s":"2558","d":110,"v":-0.05},{"s":"2558","d":115,"v":-0.1},{"s":"2558","d":120,"v":-0.15},{"s":"2558","d":125,"v":-0.18},{"s":"2558","d":130,"v":-0.2},{"s":"2558","d":135,"v":-0.22},{"s":"2558","d":140,"v":-0.25},{"s":"2558","d":145,"v":-0.28},{"s":"2558","d":150,"v":-0.3},{"s":"2558","d":160,"v":-0.3},{"s":"2558","d":165,"v":-0.2},{"s":"2558","d":168,"v":-0.1},{"s":"2558","d":170,"v":-0.05},{"s":"2558","d":175,"v":0.0},{"s":"2558","d":178,"v":0.05},{"s":"2558","d":181,"v":0.1},
{"s":"2559","d":1,"v":1.4},{"s":"2559","d":3,"v":1.3},{"s":"2559","d":5,"v":1.2},{"s":"2559","d":7,"v":1.1},{"s":"2559","d":9,"v":1.0},{"s":"2559","d":10,"v":1.3},{"s":"2559","d":11,"v":2.3},{"s":"2559","d":12,"v":2.72},{"s":"2559","d":13,"v":2.68},{"s":"2559","d":14,"v":2.0},{"s":"2559","d":15,"v":1.7},{"s":"2559","d":16,"v":1.3},{"s":"2559","d":17,"v":1.1},{"s":"2559","d":18,"v":1.2},{"s":"2559","d":20,"v":1.4},{"s":"2559","d":22,"v":1.5},{"s":"2559","d":25,"v":1.45},{"s":"2559","d":28,"v":1.4},{"s":"2559","d":30,"v":1.35},{"s":"2559","d":33,"v":1.3},{"s":"2559","d":35,"v":0.9},{"s":"2559","d":36,"v":1.3},{"s":"2559","d":38,"v":1.35},{"s":"2559","d":40,"v":1.3},{"s":"2559","d":45,"v":1.25},{"s":"2559","d":50,"v":1.3},{"s":"2559","d":52,"v":1.3},{"s":"2559","d":54,"v":0.25},{"s":"2559","d":60,"v":0.25},{"s":"2559","d":65,"v":0.2},{"s":"2559","d":70,"v":0.15},{"s":"2559","d":75,"v":0.1},{"s":"2559","d":80,"v":0.2},{"s":"2559","d":83,"v":0.4},{"s":"2559","d":85,"v":0.45},{"s":"2559","d":88,"v":0.5},{"s":"2559","d":90,"v":0.4},{"s":"2559","d":95,"v":0.2},{"s":"2559","d":100,"v":0.0},{"s":"2559","d":105,"v":-0.1},{"s":"2559","d":110,"v":-0.2},{"s":"2559","d":120,"v":-0.25},{"s":"2559","d":125,"v":-0.3},{"s":"2559","d":128,"v":-0.4},{"s":"2559","d":130,"v":-0.3},{"s":"2559","d":132,"v":-0.5},{"s":"2559","d":134,"v":-0.3},{"s":"2559","d":136,"v":-0.5},{"s":"2559","d":140,"v":-0.45},{"s":"2559","d":150,"v":-0.35},{"s":"2559","d":155,"v":-0.3},{"s":"2559","d":160,"v":-0.15},{"s":"2559","d":165,"v":0.05},{"s":"2559","d":168,"v":-0.1},{"s":"2559","d":170,"v":0.0},{"s":"2559","d":175,"v":-0.2},{"s":"2559","d":181,"v":-0.25},
{"s":"2560","d":1,"v":1.65},{"s":"2560","d":2,"v":1.5},{"s":"2560","d":3,"v":1.45},{"s":"2560","d":4,"v":1.45},{"s":"2560","d":5,"v":1.2},{"s":"2560","d":6,"v":1.6},{"s":"2560","d":7,"v":2.2},{"s":"2560","d":8,"v":2.15},{"s":"2560","d":9,"v":2.1},{"s":"2560","d":10,"v":2.05},{"s":"2560","d":11,"v":2.05},{"s":"2560","d":12,"v":2.1},{"s":"2560","d":13,"v":2.0},{"s":"2560","d":14,"v":1.95},{"s":"2560","d":15,"v":1.9},{"s":"2560","d":17,"v":1.9},{"s":"2560","d":19,"v":1.85},{"s":"2560","d":21,"v":1.8},{"s":"2560","d":23,"v":1.75},{"s":"2560","d":25,"v":1.7},{"s":"2560","d":27,"v":1.65},{"s":"2560","d":28,"v":1.62},{"s":"2560","d":30,"v":1.6},{"s":"2560","d":33,"v":1.55},{"s":"2560","d":36,"v":1.5},{"s":"2560","d":40,"v":1.45},{"s":"2560","d":45,"v":1.35},{"s":"2560","d":48,"v":1.3},{"s":"2560","d":50,"v":1.2},{"s":"2560","d":53,"v":1.15},{"s":"2560","d":57,"v":1.15},{"s":"2560","d":58,"v":1.3},{"s":"2560","d":60,"v":1.32},{"s":"2560","d":63,"v":1.3},{"s":"2560","d":64,"v":1.2},{"s":"2560","d":66,"v":1.15},{"s":"2560","d":70,"v":1.15},{"s":"2560","d":75,"v":1.15},{"s":"2560","d":77,"v":1.12},{"s":"2560","d":79,"v":0.95},{"s":"2560","d":82,"v":0.86},{"s":"2560","d":85,"v":0.65},{"s":"2560","d":87,"v":0.59},{"s":"2560","d":90,"v":0.59},{"s":"2560","d":91,"v":0.22},{"s":"2560","d":92,"v":0.38},{"s":"2560","d":94,"v":0.05},{"s":"2560","d":97,"v":0.0},{"s":"2560","d":100,"v":-0.03},{"s":"2560","d":104,"v":-0.2},{"s":"2560","d":107,"v":-0.35},{"s":"2560","d":110,"v":-0.55},{"s":"2560","d":112,"v":-0.28},{"s":"2560","d":115,"v":-0.32},{"s":"2560","d":119,"v":-0.4},{"s":"2560","d":121,"v":-0.28},{"s":"2560","d":123,"v":-0.49},{"s":"2560","d":124,"v":-0.2},{"s":"2560","d":125,"v":-0.38},{"s":"2560","d":126,"v":-0.26},{"s":"2560","d":128,"v":-0.43},{"s":"2560","d":130,"v":-0.45},{"s":"2560","d":135,"v":-0.52},{"s":"2560","d":140,"v":-0.45},{"s":"2560","d":150,"v":-0.45},{"s":"2560","d":158,"v":-0.42},{"s":"2560","d":160,"v":-0.3},{"s":"2560","d":162,"v":-0.05},{"s":"2560","d":163,"v":0.0},{"s":"2560","d":164,"v":-0.1},{"s":"2560","d":166,"v":-0.37},{"s":"2560","d":170,"v":-0.39},{"s":"2560","d":172,"v":-0.08},{"s":"2560","d":174,"v":-0.25},{"s":"2560","d":176,"v":-0.2},{"s":"2560","d":177,"v":0.0},{"s":"2560","d":178,"v":0.05},{"s":"2560","d":180,"v":0.25},{"s":"2560","d":181,"v":0.36},
{"s":"2561","d":1,"v":1.0},{"s":"2561","d":3,"v":0.85},{"s":"2561","d":5,"v":0.6},{"s":"2561","d":7,"v":0.4},{"s":"2561","d":8,"v":0.35},{"s":"2561","d":9,"v":0.45},{"s":"2561","d":10,"v":1.2},{"s":"2561","d":11,"v":1.76},{"s":"2561","d":13,"v":1.78},{"s":"2561","d":15,"v":1.78},{"s":"2561","d":16,"v":1.75},{"s":"2561","d":17,"v":1.4},{"s":"2561","d":18,"v":1.3},{"s":"2561","d":20,"v":1.3},{"s":"2561","d":25,"v":1.25},{"s":"2561","d":30,"v":1.25},{"s":"2561","d":35,"v":1.2},{"s":"2561","d":45,"v":1.2},{"s":"2561","d":50,"v":1.18},{"s":"2561","d":54,"v":1.15},{"s":"2561","d":56,"v":0.6},{"s":"2561","d":58,"v":0.22},{"s":"2561","d":66,"v":0.22},{"s":"2561","d":70,"v":0.28},{"s":"2561","d":72,"v":0.45},{"s":"2561","d":75,"v":0.62},{"s":"2561","d":78,"v":0.78},{"s":"2561","d":80,"v":0.85},{"s":"2561","d":82,"v":0.86},{"s":"2561","d":84,"v":0.93},{"s":"2561","d":86,"v":0.95},{"s":"2561","d":87,"v":0.86},{"s":"2561","d":90,"v":0.85},{"s":"2561","d":92,"v":0.55},{"s":"2561","d":93,"v":0.4},{"s":"2561","d":94,"v":0.53},{"s":"2561","d":95,"v":-0.03},{"s":"2561","d":98,"v":-0.1},{"s":"2561","d":102,"v":-0.12},{"s":"2561","d":106,"v":-0.15},{"s":"2561","d":110,"v":-0.2},{"s":"2561","d":115,"v":-0.25},{"s":"2561","d":120,"v":-0.3},{"s":"2561","d":125,"v":-0.35},{"s":"2561","d":130,"v":-0.35},{"s":"2561","d":135,"v":-0.4},{"s":"2561","d":140,"v":-0.42},{"s":"2561","d":150,"v":-0.45},{"s":"2561","d":155,"v":-0.3},{"s":"2561","d":157,"v":0.09},{"s":"2561","d":160,"v":-0.3},{"s":"2561","d":165,"v":-0.45},{"s":"2561","d":170,"v":-0.5},{"s":"2561","d":175,"v":-0.55},{"s":"2561","d":181,"v":-0.55},
{"s":"2562","d":1,"v":1.1},{"s":"2562","d":5,"v":1.05},{"s":"2562","d":10,"v":1.0},{"s":"2562","d":15,"v":0.98},{"s":"2562","d":20,"v":0.95},{"s":"2562","d":25,"v":0.9},{"s":"2562","d":30,"v":0.85},{"s":"2562","d":35,"v":0.82},{"s":"2562","d":40,"v":0.8},{"s":"2562","d":49,"v":0.8},{"s":"2562","d":51,"v":1.0},{"s":"2562","d":53,"v":1.02},{"s":"2562","d":56,"v":1.0},{"s":"2562","d":57,"v":0.82},{"s":"2562","d":60,"v":0.8},{"s":"2562","d":63,"v":0.75},{"s":"2562","d":66,"v":0.72},{"s":"2562","d":68,"v":0.6},{"s":"2562","d":70,"v":0.1},{"s":"2562","d":72,"v":-0.45},{"s":"2562","d":74,"v":-0.55},{"s":"2562","d":78,"v":-0.6},{"s":"2562","d":82,"v":-0.62},{"s":"2562","d":90,"v":-0.66},{"s":"2562","d":100,"v":-0.68},{"s":"2562","d":110,"v":-0.69},{"s":"2562","d":120,"v":-0.7},{"s":"2562","d":150,"v":-0.69},{"s":"2562","d":160,"v":-0.68},{"s":"2562","d":170,"v":-0.67},{"s":"2562","d":175,"v":-0.66},{"s":"2562","d":178,"v":-0.62},{"s":"2562","d":181,"v":-0.6},
{"s":"2563","d":1,"v":1.75},{"s":"2563","d":3,"v":1.7},{"s":"2563","d":5,"v":1.62},{"s":"2563","d":8,"v":1.55},{"s":"2563","d":10,"v":1.5},{"s":"2563","d":13,"v":1.48},{"s":"2563","d":16,"v":1.42},{"s":"2563","d":20,"v":1.35},{"s":"2563","d":25,"v":1.3},{"s":"2563","d":30,"v":1.28},{"s":"2563","d":35,"v":1.32},{"s":"2563","d":40,"v":1.43},{"s":"2563","d":45,"v":1.4},{"s":"2563","d":50,"v":1.38},{"s":"2563","d":52,"v":1.42},{"s":"2563","d":53,"v":1.46},{"s":"2563","d":54,"v":1.3},{"s":"2563","d":56,"v":1.0},{"s":"2563","d":57,"v":0.92},{"s":"2563","d":60,"v":0.9},{"s":"2563","d":63,"v":0.85},{"s":"2563","d":66,"v":0.78},{"s":"2563","d":68,"v":0.7},{"s":"2563","d":70,"v":0.2},{"s":"2563","d":72,"v":-0.4},{"s":"2563","d":74,"v":-0.49},{"s":"2563","d":80,"v":-0.5},{"s":"2563","d":90,"v":-0.5},{"s":"2563","d":100,"v":-0.52},{"s":"2563","d":110,"v":-0.56},{"s":"2563","d":120,"v":-0.62},{"s":"2563","d":130,"v":-0.66},{"s":"2563","d":140,"v":-0.67},{"s":"2563","d":160,"v":-0.68},{"s":"2563","d":170,"v":-0.67},{"s":"2563","d":174,"v":-0.66},{"s":"2563","d":176,"v":-0.4},{"s":"2563","d":178,"v":0.1},{"s":"2563","d":179,"v":0.15},{"s":"2563","d":181,"v":0.15},
{"s":"เฉลี่ย+S.D.","d":1,"v":3.17},{"s":"เฉลี่ย+S.D.","d":2,"v":3.45},{"s":"เฉลี่ย+S.D.","d":3,"v":3.5},{"s":"เฉลี่ย+S.D.","d":4,"v":3.26},{"s":"เฉลี่ย+S.D.","d":5,"v":2.68},{"s":"เฉลี่ย+S.D.","d":6,"v":2.38},{"s":"เฉลี่ย+S.D.","d":7,"v":2.2},{"s":"เฉลี่ย+S.D.","d":8,"v":2.1},{"s":"เฉลี่ย+S.D.","d":9,"v":1.95},{"s":"เฉลี่ย+S.D.","d":11,"v":1.95},{"s":"เฉลี่ย+S.D.","d":13,"v":1.9},{"s":"เฉลี่ย+S.D.","d":15,"v":1.97},{"s":"เฉลี่ย+S.D.","d":16,"v":2.47},{"s":"เฉลี่ย+S.D.","d":17,"v":2.72},{"s":"เฉลี่ย+S.D.","d":18,"v":2.43},{"s":"เฉลี่ย+S.D.","d":19,"v":2.0},{"s":"เฉลี่ย+S.D.","d":20,"v":1.9},{"s":"เฉลี่ย+S.D.","d":21,"v":1.85},{"s":"เฉลี่ย+S.D.","d":23,"v":1.75},{"s":"เฉลี่ย+S.D.","d":25,"v":1.65},{"s":"เฉลี่ย+S.D.","d":28,"v":1.55},{"s":"เฉลี่ย+S.D.","d":31,"v":1.48},{"s":"เฉลี่ย+S.D.","d":34,"v":1.38},{"s":"เฉลี่ย+S.D.","d":38,"v":1.26},{"s":"เฉลี่ย+S.D.","d":41,"v":1.15},{"s":"เฉลี่ย+S.D.","d":45,"v":1.08},{"s":"เฉลี่ย+S.D.","d":49,"v":1.0},{"s":"เฉลี่ย+S.D.","d":53,"v":0.9},{"s":"เฉลี่ย+S.D.","d":56,"v":0.8},{"s":"เฉลี่ย+S.D.","d":59,"v":0.7},{"s":"เฉลี่ย+S.D.","d":63,"v":0.65},{"s":"เฉลี่ย+S.D.","d":67,"v":0.63},{"s":"เฉลี่ย+S.D.","d":72,"v":0.57},{"s":"เฉลี่ย+S.D.","d":78,"v":0.49},{"s":"เฉลี่ย+S.D.","d":82,"v":0.45},{"s":"เฉลี่ย+S.D.","d":86,"v":0.4},{"s":"เฉลี่ย+S.D.","d":90,"v":0.33},{"s":"เฉลี่ย+S.D.","d":95,"v":0.27},{"s":"เฉลี่ย+S.D.","d":100,"v":0.22},{"s":"เฉลี่ย+S.D.","d":105,"v":0.17},{"s":"เฉลี่ย+S.D.","d":110,"v":0.13},{"s":"เฉลี่ย+S.D.","d":115,"v":0.1},{"s":"เฉลี่ย+S.D.","d":120,"v":0.09},{"s":"เฉลี่ย+S.D.","d":125,"v":0.09},{"s":"เฉลี่ย+S.D.","d":130,"v":0.12},{"s":"เฉลี่ย+S.D.","d":131,"v":0.2},{"s":"เฉลี่ย+S.D.","d":132,"v":0.49},{"s":"เฉลี่ย+S.D.","d":133,"v":0.45},{"s":"เฉลี่ย+S.D.","d":134,"v":0.3},{"s":"เฉลี่ย+S.D.","d":136,"v":0.24},{"s":"เฉลี่ย+S.D.","d":141,"v":0.22},{"s":"เฉลี่ย+S.D.","d":145,"v":0.17},{"s":"เฉลี่ย+S.D.","d":149,"v":0.19},{"s":"เฉลี่ย+S.D.","d":153,"v":0.17},{"s":"เฉลี่ย+S.D.","d":160,"v":0.18},{"s":"เฉลี่ย+S.D.","d":165,"v":0.2},{"s":"เฉลี่ย+S.D.","d":170,"v":0.17},{"s":"เฉลี่ย+S.D.","d":175,"v":0.2},{"s":"เฉลี่ย+S.D.","d":177,"v":0.3},{"s":"เฉลี่ย+S.D.","d":178,"v":0.36},{"s":"เฉลี่ย+S.D.","d":180,"v":0.4},{"s":"เฉลี่ย+S.D.","d":181,"v":0.48},
{"s":"เฉลี่ย","d":1,"v":1.88},{"s":"เฉลี่ย","d":2,"v":1.92},{"s":"เฉลี่ย","d":3,"v":1.95},{"s":"เฉลี่ย","d":4,"v":1.85},{"s":"เฉลี่ย","d":5,"v":1.76},{"s":"เฉลี่ย","d":6,"v":1.6},{"s":"เฉลี่ย","d":7,"v":1.45},{"s":"เฉลี่ย","d":8,"v":1.34},{"s":"เฉลี่ย","d":10,"v":1.3},{"s":"เฉลี่ย","d":12,"v":1.28},{"s":"เฉลี่ย","d":16,"v":1.2},{"s":"เฉลี่ย","d":20,"v":1.1},{"s":"เฉลี่ย","d":25,"v":1.0},{"s":"เฉลี่ย","d":30,"v":0.9},{"s":"เฉลี่ย","d":35,"v":0.8},{"s":"เฉลี่ย","d":40,"v":0.68},{"s":"เฉลี่ย","d":43,"v":0.62},{"s":"เฉลี่ย","d":48,"v":0.5},{"s":"เฉลี่ย","d":52,"v":0.43},{"s":"เฉลี่ย","d":56,"v":0.38},{"s":"เฉลี่ย","d":60,"v":0.32},{"s":"เฉลี่ย","d":64,"v":0.3},{"s":"เฉลี่ย","d":68,"v":0.25},{"s":"เฉลี่ย","d":72,"v":0.2},{"s":"เฉลี่ย","d":76,"v":0.15},{"s":"เฉลี่ย","d":80,"v":0.1},{"s":"เฉลี่ย","d":84,"v":0.07},{"s":"เฉลี่ย","d":88,"v":0.05},{"s":"เฉลี่ย","d":92,"v":0.02},{"s":"เฉลี่ย","d":96,"v":-0.07},{"s":"เฉลี่ย","d":100,"v":-0.1},{"s":"เฉลี่ย","d":105,"v":-0.12},{"s":"เฉลี่ย","d":110,"v":-0.15},{"s":"เฉลี่ย","d":115,"v":-0.18},{"s":"เฉลี่ย","d":120,"v":-0.22},{"s":"เฉลี่ย","d":125,"v":-0.26},{"s":"เฉลี่ย","d":130,"v":-0.3},{"s":"เฉลี่ย","d":131,"v":-0.25},{"s":"เฉลี่ย","d":132,"v":-0.15},{"s":"เฉลี่ย","d":134,"v":-0.2},{"s":"เฉลี่ย","d":137,"v":-0.22},{"s":"เฉลี่ย","d":141,"v":-0.25},{"s":"เฉลี่ย","d":145,"v":-0.24},{"s":"เฉลี่ย","d":149,"v":-0.24},{"s":"เฉลี่ย","d":153,"v":-0.25},{"s":"เฉลี่ย","d":156,"v":-0.26},{"s":"เฉลี่ย","d":160,"v":-0.25},{"s":"เฉลี่ย","d":164,"v":-0.14},{"s":"เฉลี่ย","d":166,"v":-0.2},{"s":"เฉลี่ย","d":170,"v":-0.22},{"s":"เฉลี่ย","d":175,"v":-0.2},{"s":"เฉลี่ย","d":178,"v":-0.15},{"s":"เฉลี่ย","d":181,"v":-0.08},
{"s":"เฉลี่ย-S.D.","d":1,"v":0.55},{"s":"เฉลี่ย-S.D.","d":2,"v":0.46},{"s":"เฉลี่ย-S.D.","d":3,"v":0.36},{"s":"เฉลี่ย-S.D.","d":4,"v":0.47},{"s":"เฉลี่ย-S.D.","d":5,"v":0.6},{"s":"เฉลี่ย-S.D.","d":6,"v":0.63},{"s":"เฉลี่ย-S.D.","d":8,"v":0.65},{"s":"เฉลี่ย-S.D.","d":10,"v":0.65},{"s":"เฉลี่ย-S.D.","d":12,"v":0.64},{"s":"เฉลี่ย-S.D.","d":14,"v":0.62},{"s":"เฉลี่ย-S.D.","d":16,"v":0.58},{"s":"เฉลี่ย-S.D.","d":17,"v":0.05},{"s":"เฉลี่ย-S.D.","d":18,"v":0.2},{"s":"เฉลี่ย-S.D.","d":19,"v":0.35},{"s":"เฉลี่ย-S.D.","d":20,"v":0.42},{"s":"เฉลี่ย-S.D.","d":22,"v":0.4},{"s":"เฉลี่ย-S.D.","d":25,"v":0.38},{"s":"เฉลี่ย-S.D.","d":28,"v":0.35},{"s":"เฉลี่ย-S.D.","d":31,"v":0.3},{"s":"เฉลี่ย-S.D.","d":34,"v":0.26},{"s":"เฉลี่ย-S.D.","d":37,"v":0.2},{"s":"เฉลี่ย-S.D.","d":40,"v":0.12},{"s":"เฉลี่ย-S.D.","d":44,"v":0.05},{"s":"เฉลี่ย-S.D.","d":48,"v":-0.02},{"s":"เฉลี่ย-S.D.","d":52,"v":-0.1},{"s":"เฉลี่ย-S.D.","d":56,"v":-0.1},{"s":"เฉลี่ย-S.D.","d":60,"v":-0.12},{"s":"เฉลี่ย-S.D.","d":64,"v":-0.15},{"s":"เฉลี่ย-S.D.","d":67,"v":-0.2},{"s":"เฉลี่ย-S.D.","d":71,"v":-0.24},{"s":"เฉลี่ย-S.D.","d":75,"v":-0.26},{"s":"เฉลี่ย-S.D.","d":80,"v":-0.28},{"s":"เฉลี่ย-S.D.","d":84,"v":-0.3},{"s":"เฉลี่ย-S.D.","d":88,"v":-0.33},{"s":"เฉลี่ย-S.D.","d":91,"v":-0.37},{"s":"เฉลี่ย-S.D.","d":95,"v":-0.43},{"s":"เฉลี่ย-S.D.","d":100,"v":-0.47},{"s":"เฉลี่ย-S.D.","d":105,"v":-0.48},{"s":"เฉลี่ย-S.D.","d":108,"v":-0.49},{"s":"เฉลี่ย-S.D.","d":112,"v":-0.52},{"s":"เฉลี่ย-S.D.","d":116,"v":-0.56},{"s":"เฉลี่ย-S.D.","d":120,"v":-0.6},{"s":"เฉลี่ย-S.D.","d":125,"v":-0.62},{"s":"เฉลี่ย-S.D.","d":129,"v":-0.65},{"s":"เฉลี่ย-S.D.","d":131,"v":-0.67},{"s":"เฉลี่ย-S.D.","d":132,"v":-0.9},{"s":"เฉลี่ย-S.D.","d":133,"v":-0.88},{"s":"เฉลี่ย-S.D.","d":135,"v":-0.8},{"s":"เฉลี่ย-S.D.","d":137,"v":-0.75},{"s":"เฉลี่ย-S.D.","d":140,"v":-0.72},{"s":"เฉลี่ย-S.D.","d":145,"v":-0.7},{"s":"เฉลี่ย-S.D.","d":150,"v":-0.68},{"s":"เฉลี่ย-S.D.","d":155,"v":-0.66},{"s":"เฉลี่ย-S.D.","d":160,"v":-0.65},{"s":"เฉลี่ย-S.D.","d":165,"v":-0.62},{"s":"เฉลี่ย-S.D.","d":170,"v":-0.6},{"s":"เฉลี่ย-S.D.","d":175,"v":-0.58},{"s":"เฉลี่ย-S.D.","d":178,"v":-0.55},{"s":"เฉลี่ย-S.D.","d":181,"v":-0.6},
{"s":"เฉลี่ย-1.5S.D.","d":1,"v":-0.05},{"s":"เฉลี่ย-1.5S.D.","d":2,"v":-0.25},{"s":"เฉลี่ย-1.5S.D.","d":3,"v":-0.45},{"s":"เฉลี่ย-1.5S.D.","d":4,"v":-0.15},{"s":"เฉลี่ย-1.5S.D.","d":5,"v":0.13},{"s":"เฉลี่ย-1.5S.D.","d":6,"v":0.28},{"s":"เฉลี่ย-1.5S.D.","d":7,"v":0.18},{"s":"เฉลี่ย-1.5S.D.","d":8,"v":0.22},{"s":"เฉลี่ย-1.5S.D.","d":9,"v":0.28},{"s":"เฉลี่ย-1.5S.D.","d":10,"v":0.43},{"s":"เฉลี่ย-1.5S.D.","d":11,"v":0.38},{"s":"เฉลี่ย-1.5S.D.","d":12,"v":0.35},{"s":"เฉลี่ย-1.5S.D.","d":13,"v":0.34},{"s":"เฉลี่ย-1.5S.D.","d":15,"v":0.35},{"s":"เฉลี่ย-1.5S.D.","d":16,"v":0.26},{"s":"เฉลี่ย-1.5S.D.","d":17,"v":-0.73},{"s":"เฉลี่ย-1.5S.D.","d":18,"v":-0.4},{"s":"เฉลี่ย-1.5S.D.","d":19,"v":-0.08},{"s":"เฉลี่ย-1.5S.D.","d":20,"v":0.03},{"s":"เฉลี่ย-1.5S.D.","d":22,"v":0.07},{"s":"เฉลี่ย-1.5S.D.","d":24,"v":0.14},{"s":"เฉลี่ย-1.5S.D.","d":25,"v":0.12},{"s":"เฉลี่ย-1.5S.D.","d":26,"v":0.06},{"s":"เฉลี่ย-1.5S.D.","d":28,"v":-0.05},{"s":"เฉลี่ย-1.5S.D.","d":29,"v":0.0},{"s":"เฉลี่ย-1.5S.D.","d":33,"v":0.0},{"s":"เฉลี่ย-1.5S.D.","d":36,"v":-0.07},{"s":"เฉลี่ย-1.5S.D.","d":38,"v":-0.12},{"s":"เฉลี่ย-1.5S.D.","d":41,"v":-0.17},{"s":"เฉลี่ย-1.5S.D.","d":43,"v":-0.23},{"s":"เฉลี่ย-1.5S.D.","d":46,"v":-0.26},{"s":"เฉลี่ย-1.5S.D.","d":49,"v":-0.28},{"s":"เฉลี่ย-1.5S.D.","d":52,"v":-0.32},{"s":"เฉลี่ย-1.5S.D.","d":56,"v":-0.37},{"s":"เฉลี่ย-1.5S.D.","d":60,"v":-0.4},{"s":"เฉลี่ย-1.5S.D.","d":64,"v":-0.42},{"s":"เฉลี่ย-1.5S.D.","d":67,"v":-0.43},{"s":"เฉลี่ย-1.5S.D.","d":71,"v":-0.45},{"s":"เฉลี่ย-1.5S.D.","d":75,"v":-0.47},{"s":"เฉลี่ย-1.5S.D.","d":80,"v":-0.48},{"s":"เฉลี่ย-1.5S.D.","d":84,"v":-0.5},{"s":"เฉลี่ย-1.5S.D.","d":88,"v":-0.55},{"s":"เฉลี่ย-1.5S.D.","d":92,"v":-0.62},{"s":"เฉลี่ย-1.5S.D.","d":100,"v":-0.62},{"s":"เฉลี่ย-1.5S.D.","d":104,"v":-0.64},{"s":"เฉลี่ย-1.5S.D.","d":108,"v":-0.66},{"s":"เฉลี่ย-1.5S.D.","d":112,"v":-0.69},{"s":"เฉลี่ย-1.5S.D.","d":115,"v":-0.72},{"s":"เฉลี่ย-1.5S.D.","d":117,"v":-0.8},{"s":"เฉลี่ย-1.5S.D.","d":119,"v":-0.85},{"s":"เฉลี่ย-1.5S.D.","d":121,"v":-0.82},{"s":"เฉลี่ย-1.5S.D.","d":123,"v":-0.76},{"s":"เฉลี่ย-1.5S.D.","d":126,"v":-0.8},{"s":"เฉลี่ย-1.5S.D.","d":129,"v":-0.84},{"s":"เฉลี่ย-1.5S.D.","d":131,"v":-0.86},{"s":"เฉลี่ย-1.5S.D.","d":132,"v":-1.22},{"s":"เฉลี่ย-1.5S.D.","d":133,"v":-1.2},{"s":"เฉลี่ย-1.5S.D.","d":134,"v":-1.1},{"s":"เฉลี่ย-1.5S.D.","d":135,"v":-1.0},{"s":"เฉลี่ย-1.5S.D.","d":137,"v":-1.01},{"s":"เฉลี่ย-1.5S.D.","d":139,"v":-0.97},{"s":"เฉลี่ย-1.5S.D.","d":142,"v":-0.94},{"s":"เฉลี่ย-1.5S.D.","d":145,"v":-0.91},{"s":"เฉลี่ย-1.5S.D.","d":149,"v":-0.9},{"s":"เฉลี่ย-1.5S.D.","d":152,"v":-0.89},{"s":"เฉลี่ย-1.5S.D.","d":155,"v":-0.91},{"s":"เฉลี่ย-1.5S.D.","d":158,"v":-0.93},{"s":"เฉลี่ย-1.5S.D.","d":161,"v":-0.92},{"s":"เฉลี่ย-1.5S.D.","d":163,"v":-0.8},{"s":"เฉลี่ย-1.5S.D.","d":166,"v":-0.78},{"s":"เฉลี่ย-1.5S.D.","d":170,"v":-0.75},{"s":"เฉลี่ย-1.5S.D.","d":174,"v":-0.73},{"s":"เฉลี่ย-1.5S.D.","d":176,"v":-0.72},{"s":"เฉลี่ย-1.5S.D.","d":178,"v":-0.85},{"s":"เฉลี่ย-1.5S.D.","d":179,"v":-0.8},{"s":"เฉลี่ย-1.5S.D.","d":181,"v":-0.89},
{"s":"2564","d":1,"v":0.59},{"s":"2564","d":2,"v":0.65},{"s":"2564","d":3,"v":1.26},{"s":"2564","d":4,"v":1.24},{"s":"2564","d":5,"v":0.88},{"s":"2564","d":6,"v":0.7},{"s":"2564","d":7,"v":0.62},{"s":"2564","d":8,"v":0.53},{"s":"2564","d":9,"v":0.53},{"s":"2564","d":10,"v":0.76},{"s":"2564","d":11,"v":0.53},{"s":"2564","d":12,"v":1.0},{"s":"2564","d":13,"v":1.76},{"s":"2564","d":14,"v":1.78},{"s":"2564","d":15,"v":1.8},{"s":"2564","d":16,"v":1.82},{"s":"2564","d":17,"v":1.8},{"s":"2564","d":18,"v":1.74},{"s":"2564","d":19,"v":1.65},{"s":"2564","d":20,"v":1.57},{"s":"2564","d":21,"v":1.7},{"s":"2564","d":22,"v":1.82},{"s":"2564","d":23,"v":1.8},{"s":"2564","d":24,"v":1.55},{"s":"2564","d":25,"v":1.52},{"s":"2564","d":26,"v":1.5},{"s":"2564","d":27,"v":1.38},{"s":"2564","d":28,"v":1.44},{"s":"2564","d":29,"v":1.4},{"s":"2564","d":30,"v":1.36},{"s":"2564","d":31,"v":1.53},{"s":"2564","d":32,"v":1.55},{"s":"2564","d":33,"v":1.57},{"s":"2564","d":34,"v":1.58},{"s":"2564","d":36,"v":1.53},{"s":"2564","d":38,"v":1.5},{"s":"2564","d":40,"v":1.5},{"s":"2564","d":42,"v":1.49},{"s":"2564","d":43,"v":1.49},{"s":"2564","d":44,"v":1.44},{"s":"2564","d":46,"v":1.41},{"s":"2564","d":47,"v":1.4},{"s":"2564","d":48,"v":1.46},{"s":"2564","d":50,"v":1.51},{"s":"2564","d":51,"v":1.46},{"s":"2564","d":52,"v":1.38},{"s":"2564","d":53,"v":1.15},{"s":"2564","d":54,"v":0.95},{"s":"2564","d":55,"v":0.8},{"s":"2564","d":56,"v":0.43},{"s":"2564","d":57,"v":0.2},{"s":"2564","d":58,"v":0.05},{"s":"2564","d":59,"v":0.09},{"s":"2564","d":60,"v":0.01},{"s":"2564","d":61,"v":0.38},{"s":"2564","d":62,"v":0.47},{"s":"2564","d":63,"v":0.7},{"s":"2564","d":64,"v":0.9},{"s":"2564","d":65,"v":0.88},{"s":"2564","d":67,"v":0.84},{"s":"2564","d":69,"v":0.82},{"s":"2564","d":71,"v":0.8},{"s":"2564","d":73,"v":0.75},{"s":"2564","d":75,"v":0.7},{"s":"2564","d":77,"v":0.57},{"s":"2564","d":78,"v":0.5},{"s":"2564","d":79,"v":0.47},{"s":"2564","d":81,"v":0.45},{"s":"2564","d":82,"v":0.42},{"s":"2564","d":83,"v":0.35},{"s":"2564","d":84,"v":0.32},{"s":"2564","d":85,"v":0.45},{"s":"2564","d":86,"v":0.4},{"s":"2564","d":88,"v":0.2},{"s":"2564","d":90,"v":0.05},{"s":"2564","d":91,"v":0.0},{"s":"2564","d":92,"v":-0.03},{"s":"2564","d":93,"v":0.34},{"s":"2564","d":94,"v":1.03},{"s":"2564","d":95,"v":1.07},{"s":"2564","d":96,"v":0.99},{"s":"2564","d":97,"v":1.0},{"s":"2564","d":99,"v":0.99},{"s":"2564","d":100,"v":1.05},{"s":"2564","d":101,"v":1.11},{"s":"2564","d":102,"v":0.93},{"s":"2564","d":103,"v":0.78},{"s":"2564","d":104,"v":0.72},{"s":"2564","d":105,"v":0.68},{"s":"2564","d":106,"v":0.65},{"s":"2564","d":108,"v":0.55},{"s":"2564","d":110,"v":0.51},{"s":"2564","d":112,"v":0.52},{"s":"2564","d":113,"v":0.53},{"s":"2564","d":114,"v":0.76},{"s":"2564","d":115,"v":0.85},{"s":"2564","d":116,"v":0.88},{"s":"2564","d":119,"v":0.88},{"s":"2564","d":122,"v":0.86},{"s":"2564","d":125,"v":0.85},{"s":"2564","d":128,"v":0.85},{"s":"2564","d":131,"v":0.85},{"s":"2564","d":134,"v":0.86},{"s":"2564","d":135,"v":0.87},{"s":"2564","d":136,"v":1.05},{"s":"2564","d":137,"v":1.2},{"s":"2564","d":138,"v":1.26},{"s":"2564","d":140,"v":1.22},{"s":"2564","d":142,"v":1.18},{"s":"2564","d":144,"v":1.16},{"s":"2564","d":146,"v":1.13},{"s":"2564","d":147,"v":1.12},{"s":"2564","d":149,"v":1.22},{"s":"2564","d":150,"v":1.2},{"s":"2564","d":151,"v":1.16},{"s":"2564","d":152,"v":1.08},{"s":"2564","d":154,"v":1.04},{"s":"2564","d":156,"v":1.02},{"s":"2564","d":158,"v":1.03},{"s":"2564","d":160,"v":1.1},{"s":"2564","d":161,"v":1.06},{"s":"2564","d":162,"v":1.0},{"s":"2564","d":164,"v":0.99},{"s":"2564","d":165,"v":0.85},{"s":"2564","d":166,"v":0.72},{"s":"2564","d":168,"v":0.68},{"s":"2564","d":170,"v":0.66},{"s":"2564","d":174,"v":0.66},{"s":"2564","d":176,"v":0.67},{"s":"2564","d":177,"v":0.7}
]
},
"vconcat": [
{
"width": 1589,
"height": 880,
"view": {"stroke": "#000000", "strokeWidth": 1.5},
"encoding": {
"x": {"field": "d", "type": "quantitative", "scale": {"domain": [1, 181], "nice": false, "zero": false},
 "axis": {"title": "วันที่", "tickCount": 180, "labelExpr": "(datum.value - 1) % 3 == 0 ? datum.label : ''", "labelOverlap": false, "labelFlush": false, "labelFont": "Liberation Sans Narrow, Noto Sans, sans-serif", "labelFontSize": 14, "labelColor": "#333333", "labelPadding": 12, "tickSize": 6, "tickColor": "#000000", "tickWidth": 1.5, "domainColor": "#000000", "domainWidth": 2, "grid": false, "titleX": 801, "titleY": -43, "titleBaseline": "middle", "titleAlign": "center", "titleFont": "Noto Sans Thai, Noto Sans, DejaVu Sans, sans-serif", "titleFontSize": 24, "titleFontWeight": "bold", "titleColor": "#000000"}},
"y": {"field": "v", "type": "quantitative", "scale": {"domain": [-2, 9], "nice": false, "zero": false},
 "axis": {"title": "ระดับน้ำ   -   เมตร (ร.ส.ม.)", "values": [-2,-1.8,-1.6,-1.4,-1.2,-1,-0.8,-0.6,-0.4,-0.2,0,0.2,0.4,0.6,0.8,1,1.2,1.4,1.6,1.8,2,2.2,2.4,2.6,2.8,3,3.2,3.4,3.6,3.8,4,4.2,4.4,4.6,4.8,5,5.2,5.4,5.6,5.8,6,6.2,6.4,6.6,6.8,7,7.2,7.4,7.6,7.8,8,8.2,8.4,8.6,8.8,9],
  "labelExpr": "abs(datum.value - round(datum.value)) < 0.01 ? format(datum.value, '.2f') : ''",
  "tickSize": {"condition": {"test": "abs(datum.value - round(datum.value)) < 0.01", "value": 8}, "value": 5},
  "gridOpacity": {"condition": {"test": "abs(datum.value - round(datum.value)) < 0.01", "value": 1}, "value": 0},
  "grid": true, "gridColor": "#A6A6A6", "gridWidth": 1.5, "labelOverlap": false, "labelFlush": false,
  "labelFont": "DejaVu Sans, sans-serif", "labelFontSize": 16, "labelColor": "#333333", "labelPadding": 17,
  "tickColor": "#000000", "tickWidth": 1.5, "domainColor": "#000000", "domainWidth": 2,
  "titleFont": "Noto Sans Thai, Noto Sans, DejaVu Sans, sans-serif", "titleFontSize": 25, "titleFontWeight": "bold", "titleColor": "#111111", "titlePadding": 24}}
},
"layer": [
{
"data": {"name": "w"},
"encoding": {
"color": {"field": "s", "type": "nominal",
 "scale": {"domain": ["เฉลี่ย+S.D.","เฉลี่ย","เฉลี่ย-S.D.","เฉลี่ย-1.5S.D.","2538","2539","2540","2541","2542","2543","2544","2545","2546","2547","2548","2549","2550","2551","2552","2553","2554","2555","2556","2557","2558","2559","2560","2561","2562","2563","2564"],
  "range": ["#009900","#FFC000","#FF0000","#FF0000","#9C6B00","#255E91","#43682B","#698ED0","#F1975A","#B7B7B7","#FFCD33","#7CAFDD","#8CC168","#335AA1","#D26012","#848484","#CC9A00","#3A7DC9","#548235","#ED7D31","#7F6000","#1F4E79","#8FAADC","#F4B183","#C55A11","#FFD966","#26F7D0","#A9D18E","#203864","#843C0C","#0000FF"]},
 "legend": {"title": null, "orient": "none", "legendX": 224, "legendY": 23, "columns": 6, "direction": "horizontal", "symbolLimit": 50, "symbolType": "stroke", "symbolSize": 4356, "clipHeight": 20, "labelFont": "Noto Sans Thai, Noto Sans, DejaVu Sans, sans-serif", "labelFontSize": 16, "labelColor": "#1a1a1a", "labelOffset": 5, "labelLimit": 220, "columnPadding": 24, "rowPadding": 19, "padding": 11, "strokeColor": "#404040", "fillColor": "#ffffff", "gridAlign": "all"}},
"strokeDash": {"field": "s", "type": "nominal",
 "scale": {"domain": ["เฉลี่ย+S.D.","เฉลี่ย","เฉลี่ย-S.D.","เฉลี่ย-1.5S.D.","2538","2539","2540","2541","2542","2543","2544","2545","2546","2547","2548","2549","2550","2551","2552","2553","2554","2555","2556","2557","2558","2559","2560","2561","2562","2563","2564"],
  "range": [[11,9],[11,9],[11,9],[1,0],[1,0],[1,0],[1,0],[1,0],[1,0],[1,0],[1,0],[1,0],[1,0],[1,0],[1,0],[1,0],[1,0],[1,0],[1,0],[1,0],[1,0],[1,0],[1,0],[1,0],[1,0],[1,0],[1,0],[1,0],[1,0],[1,0],[1,0]]},
 "legend": {"title": null, "orient": "none", "legendX": 224, "legendY": 23, "columns": 6, "direction": "horizontal", "symbolLimit": 50, "symbolType": "stroke", "symbolSize": 4356, "clipHeight": 20, "labelFont": "Noto Sans Thai, Noto Sans, DejaVu Sans, sans-serif", "labelFontSize": 16, "labelColor": "#1a1a1a", "labelOffset": 5, "labelLimit": 220, "columnPadding": 24, "rowPadding": 19, "padding": 11, "strokeColor": "#404040", "fillColor": "#ffffff", "gridAlign": "all"}},
"strokeWidth": {"field": "s", "type": "ordinal",
 "scale": {"domain": ["เฉลี่ย+S.D.","เฉลี่ย","เฉลี่ย-S.D.","เฉลี่ย-1.5S.D.","2538","2539","2540","2541","2542","2543","2544","2545","2546","2547","2548","2549","2550","2551","2552","2553","2554","2555","2556","2557","2558","2559","2560","2561","2562","2563","2564"],
  "range": [5.5,5.5,5.5,5.5,1.5,1.5,1.5,1.5,1.5,1.5,1.5,1.5,1.5,1.5,1.5,1.5,1.5,1.5,1.5,1.5,1.5,1.5,1.5,1.5,1.5,1.5,1.5,1.5,1.5,1.5,8.5]},
 "legend": {"title": null, "orient": "none", "legendX": 224, "legendY": 23, "columns": 6, "direction": "horizontal", "symbolLimit": 50, "symbolType": "stroke", "symbolSize": 4356, "clipHeight": 20, "labelFont": "Noto Sans Thai, Noto Sans, DejaVu Sans, sans-serif", "labelFontSize": 16, "labelColor": "#1a1a1a", "labelOffset": 5, "labelLimit": 220, "columnPadding": 24, "rowPadding": 19, "padding": 11, "strokeColor": "#404040", "fillColor": "#ffffff", "gridAlign": "all"}}
},
"layer": [
{"transform": [{"filter": {"field": "s", "oneOf": ["2538","2539","2540","2541","2542","2543","2544","2545","2546","2547","2548","2549","2550","2551","2552","2553","2554","2555","2556","2557","2558","2559","2560","2561","2562","2563"]}}],
 "mark": {"type": "line", "strokeJoin": "round"}},
{"transform": [{"filter": {"field": "s", "oneOf": ["เฉลี่ย+S.D.","เฉลี่ย","เฉลี่ย-S.D.","เฉลี่ย-1.5S.D."]}}],
 "mark": {"type": "line", "strokeJoin": "round"}},
{"transform": [{"filter": {"field": "s", "equal": "2564"}}],
 "mark": {"type": "line", "strokeJoin": "round", "strokeCap": "round"}}
]
},
{"data": {"values": [{"t": "ศูนย์อุทกวิทยาชลประทานภาคเหนือตอนล่าง  กรมชลประทาน", "px": 178.7, "py": -1.68}]},
 "mark": {"type": "text", "align": "right", "baseline": "middle", "font": "Noto Sans Thai, Noto Sans, DejaVu Sans, sans-serif", "fontSize": 21.5, "fill": "#FF33CC"},
 "encoding": {"x": {"field": "px", "type": "quantitative"}, "y": {"field": "py", "type": "quantitative"}, "text": {"field": "t"}}}
]
},
{
"width": 1589,
"height": 100,
"data": {"name": "mo"},
"layer": [
{"mark": {"type": "rect", "fill": "#ffffff", "stroke": "#8E4A1A", "strokeWidth": 3},
 "encoding": {"x": {"field": "a", "type": "quantitative", "scale": {"domain": [1, 181], "nice": false, "zero": false}, "axis": null}, "x2": {"field": "b"}}},
{"transform": [{"calculate": "(datum.a + datum.b) / 2", "as": "c"}],
 "mark": {"type": "text", "font": "Noto Sans Thai, Noto Sans, DejaVu Sans, sans-serif", "fontSize": 26, "fontWeight": "bold", "color": "#000000", "baseline": "middle"},
 "encoding": {"x": {"field": "c", "type": "quantitative", "scale": {"domain": [1, 181], "nice": false, "zero": false}, "axis": null}, "text": {"field": "m"}}}
]
}
]
}
